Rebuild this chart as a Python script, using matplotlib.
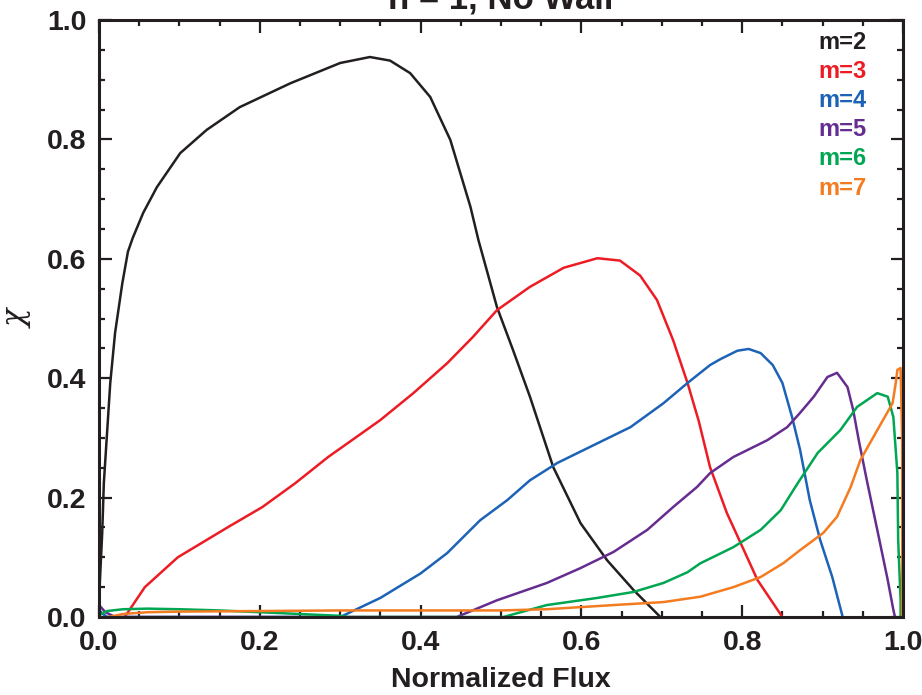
import matplotlib
matplotlib.use("Agg")
import matplotlib.pyplot as plt
from matplotlib.ticker import MultipleLocator

plt.rcParams['font.family'] = ['Liberation Sans Narrow', 'Liberation Sans', 'DejaVu Sans']
plt.rcParams['font.weight'] = 'bold'

# m=2
x_m2 = [0.0, 0.001, 0.004, 0.006, 0.010, 0.014, 0.020, 0.029, 0.036, 0.042, 0.055, 0.072, 0.101,
        0.134, 0.175, 0.238, 0.300, 0.337, 0.362, 0.387, 0.412, 0.437, 0.462, 0.472, 0.495,
        0.515, 0.536, 0.565, 0.599, 0.632, 0.665, 0.696, 0.698]
y_m2 = [0.0, 0.057, 0.141, 0.224, 0.308, 0.392, 0.476, 0.559, 0.612, 0.635, 0.677, 0.720, 0.777,
        0.816, 0.854, 0.894, 0.928, 0.938, 0.932, 0.911, 0.871, 0.799, 0.687, 0.631, 0.519,
        0.447, 0.369, 0.251, 0.157, 0.095, 0.045, 0.003, 0.0]
# m=3
x_m3 = [0.032, 0.057, 0.098, 0.161, 0.203, 0.244, 0.285, 0.327, 0.350, 0.391, 0.433, 0.465,
        0.495, 0.536, 0.578, 0.620, 0.648, 0.673, 0.694, 0.714, 0.732, 0.746, 0.760, 0.781,
        0.798, 0.819, 0.850]
y_m3 = [0.0, 0.050, 0.100, 0.151, 0.184, 0.224, 0.268, 0.308, 0.330, 0.375, 0.425, 0.469,
        0.514, 0.553, 0.585, 0.601, 0.597, 0.572, 0.531, 0.464, 0.392, 0.328, 0.251, 0.174,
        0.124, 0.062, 0.0]
# m=4
x_m4 = [0.0, 0.004, 0.010, 0.300, 0.350, 0.400, 0.433, 0.474, 0.508, 0.536, 0.570, 0.620, 0.661,
        0.702, 0.732, 0.760, 0.773, 0.794, 0.808, 0.823, 0.838, 0.850, 0.862, 0.872, 0.884,
        0.897, 0.912, 0.925]
y_m4 = [0.012, 0.006, 0.0, 0.0, 0.032, 0.073, 0.107, 0.162, 0.196, 0.229, 0.258, 0.291, 0.318,
        0.358, 0.392, 0.422, 0.432, 0.446, 0.449, 0.442, 0.422, 0.392, 0.335, 0.280, 0.196,
        0.129, 0.067, 0.0]
# m=5
x_m5 = [0.0, 0.008, 0.02, 0.445, 0.495, 0.557, 0.599, 0.640, 0.682, 0.714, 0.744, 0.760, 0.789,
        0.831, 0.856, 0.872, 0.889, 0.906, 0.918, 0.931, 0.938, 0.945, 0.955, 0.968, 0.981,
        0.988, 0.990]
y_m5 = [0.02, 0.008, 0.0, 0.0, 0.028, 0.057, 0.082, 0.109, 0.146, 0.184, 0.218, 0.241, 0.268,
        0.296, 0.318, 0.342, 0.369, 0.402, 0.409, 0.385, 0.347, 0.296, 0.229, 0.146, 0.062,
        0.012, 0.0]
# m=6
x_m6 = [0.0, 0.01, 0.03, 0.06, 0.10, 0.15, 0.20, 0.25, 0.30, 0.31, 0.503, 0.557, 0.620, 0.665,
        0.702, 0.732, 0.748, 0.789, 0.823, 0.848, 0.869, 0.894, 0.922, 0.943, 0.968, 0.981,
        0.988, 0.993, 0.994, 0.997, 0.997]
y_m6 = [0.003, 0.010, 0.013, 0.014, 0.013, 0.011, 0.008, 0.005, 0.002, 0.0, 0.0, 0.020, 0.032,
        0.042, 0.057, 0.075, 0.090, 0.117, 0.146, 0.179, 0.224, 0.275, 0.313, 0.352, 0.375,
        0.369, 0.335, 0.241, 0.129, 0.028, 0.0]
# m=7
x_m7 = [0.012, 0.03, 0.06, 0.10, 0.20, 0.30, 0.40, 0.50, 0.557, 0.640, 0.702, 0.748, 0.789,
        0.823, 0.851, 0.872, 0.901, 0.918, 0.935, 0.947, 0.968, 0.987, 0.991, 0.993, 0.997,
        0.999, 0.999]
y_m7 = [0.0, 0.005, 0.008, 0.009, 0.010, 0.011, 0.011, 0.011, 0.013, 0.020, 0.025, 0.034, 0.050,
        0.067, 0.090, 0.112, 0.141, 0.168, 0.218, 0.263, 0.313, 0.358, 0.392, 0.414, 0.417,
        0.296, 0.0]

labels = ['m=2', 'm=3', 'm=4', 'm=5', 'm=6', 'm=7']
colors = ['#231f20', '#ed1c24', '#1c63b7', '#662d91', '#00a651', '#f47b20']
xs = [x_m2, x_m3, x_m4, x_m5, x_m6, x_m7]
ys = [y_m2, y_m3, y_m4, y_m5, y_m6, y_m7]

fig = plt.figure(figsize=(9.22, 6.95), dpi=100)
ax = fig.add_axes([99 / 922, 1 - 617 / 695, 804 / 922, 597 / 695])

for x, y, c in zip(xs, ys, colors):
    ax.plot(x, y, color=c, lw=1.8, solid_joinstyle='round')

ax.set_xlim(0, 1.0)
ax.set_ylim(0, 1.0)
ax.xaxis.set_major_locator(MultipleLocator(0.2))
ax.xaxis.set_minor_locator(MultipleLocator(0.05))
ax.yaxis.set_major_locator(MultipleLocator(0.2))
ax.yaxis.set_minor_locator(MultipleLocator(0.05))
ax.xaxis.set_major_formatter(lambda v, p: f'{v:.1f}')
ax.yaxis.set_major_formatter(lambda v, p: f'{v:.1f}')
ax.tick_params(which='both', direction='in', top=True, right=True, width=1.6, color='#231f20')
ax.tick_params(which='major', length=9, labelsize=20.5, pad=9, labelcolor='#231f20')
ax.tick_params(which='minor', length=4.5)
for s in ax.spines.values():
    s.set_linewidth(2.2)
    s.set_color('#231f20')
for t in ax.get_xticklabels() + ax.get_yticklabels():
    t.set_fontweight('bold')

ax.set_xlabel('Normalized Flux', fontsize=20.5, fontweight='bold', color='#231f20')
ax.xaxis.set_label_coords(0.5, -0.083)
ax.set_ylabel('χ', fontsize=22, fontweight='normal', family='DejaVu Serif',
              style='italic', color='#231f20')
ax.yaxis.set_label_coords(-0.082, 0.5)

fig.text(0.543, 1 - 8 / 695, 'n = 1, No Wall', ha='center', va='baseline',
         fontsize=25, fontweight='bold', color='#231f20')

for i, (lab, c) in enumerate(zip(labels, colors)):
    ax.text(0.955, 0.962 - i * 0.0487, lab, color=c, ha='right', va='center',
            fontsize=17, fontweight='bold', transform=ax.transAxes)

fig.savefig('out.png', dpi=100)
